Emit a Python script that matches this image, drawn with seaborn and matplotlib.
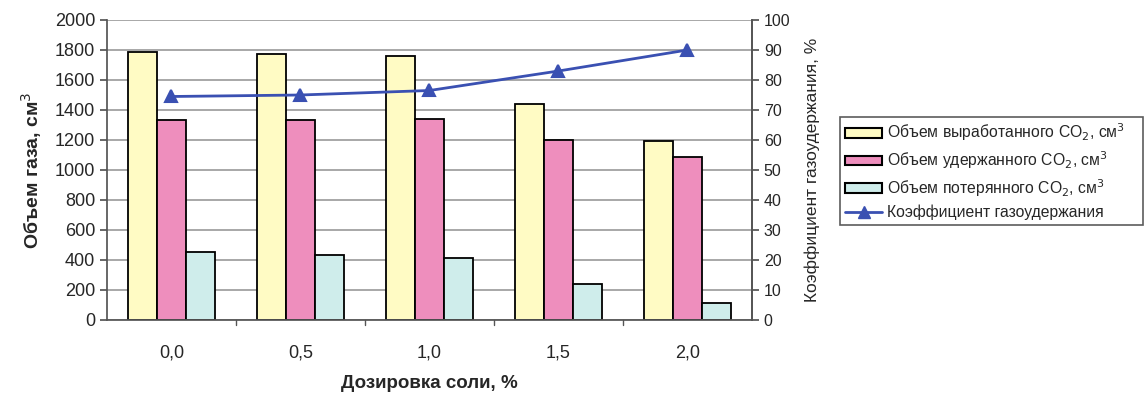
import matplotlib
matplotlib.use('Agg')
import seaborn as sns
import matplotlib.pyplot as plt
import matplotlib.patches as mpatches
import matplotlib.lines as mlines
import pandas as pd

# data
doses = ["0,0", "0,5", "1,0", "1,5", "2,0"]
produced = [1790, 1775, 1760, 1440, 1195]
retained = [1335, 1335, 1340, 1200, 1085]
lost = [455, 435, 415, 240, 115]
retention_coef = [74.5, 75.0, 76.5, 83.0, 90.0]

series_names = [
    "Объем выработанного CO$_2$, см$^3$",
    "Объем удержанного CO$_2$, см$^3$",
    "Объем потерянного CO$_2$, см$^3$",
]
line_name = "Коэффициент газоудержания"
bar_colors = ["#FFFBC4", "#EE8EBD", "#CFEDEB"]
line_color = "#3A50B2"

df = pd.DataFrame({
    "dose": doses * 3,
    "value": produced + retained + lost,
    "series": [s for s in series_names for _ in doses],
})
df_line = pd.DataFrame({"dose": doses, "coef": retention_coef})

sns.set_theme(style="white")
plt.rcParams['font.family'] = ['Liberation Sans', 'DejaVu Sans']

fig = plt.figure(figsize=(11.48, 3.96), dpi=100)
ax = fig.add_axes([107 / 1148, 1 - 320 / 396, (752 - 107) / 1148, 300 / 396])

sns.barplot(data=df, x="dose", y="value", hue="series", palette=bar_colors,
            width=0.67, edgecolor="black", linewidth=1.3, ax=ax, legend=False,
            saturation=1, zorder=2)
ax.set_ylim(0, 2000)
ax.set_yticks(range(0, 2001, 200))
ax.set_xlim(-0.5, 4.5)
ax.yaxis.grid(True, color="#9a9a9a", linewidth=1.2, zorder=0)
ax.set_axisbelow(True)
ax.set_xlabel("Дозировка соли, %", fontsize=13.5, fontweight="bold",
              family=['Liberation Sans Narrow', 'Liberation Sans'], labelpad=9)
ax.set_ylabel("Объем газа, см$^3$", fontsize=14, fontweight="bold", labelpad=8)
ax.tick_params(axis="y", labelsize=13, left=True, length=5, color="#555555")
ax.tick_params(axis="x", labelsize=13, bottom=False, pad=12)
for x in [0.5, 1.5, 2.5, 3.5]:
    ax.plot([x, x], [0, -0.018], transform=ax.get_xaxis_transform(),
            color="#555555", lw=1, clip_on=False)
for sp in ax.spines.values():
    sp.set_color("#555555")
ax.spines["top"].set_visible(False)

ax2 = ax.twinx()
sns.pointplot(data=df_line, x="dose", y="coef", color=line_color, markers="^",
              markersize=8, linewidth=2, ax=ax2)
ax2.set_ylim(0, 100)
ax2.set_yticks(range(0, 101, 10))
ax2.set_xlim(-0.5, 4.5)
ax2.set_ylabel("Коэффициент газоудержания, %", fontsize=12.5, labelpad=10)
ax2.tick_params(axis="y", labelsize=11.5, right=True, length=5, color="#555555")
for sp in ax2.spines.values():
    sp.set_visible(False)
ax2.spines["right"].set_visible(True)
ax2.spines["right"].set_color("#555555")

handles = [mpatches.Patch(facecolor=c, edgecolor="black", linewidth=1.5, label=n)
           for c, n in zip(bar_colors, series_names)]
handles.append(mlines.Line2D([], [], color=line_color, marker="^", markersize=8,
                             linewidth=2, label=line_name))
leg = fig.legend(handles=handles, loc="upper left", mode="expand",
                 bbox_to_anchor=(840 / 1148, 1 - 117 / 396, 303 / 1148, 0),
                 fontsize=11.3, frameon=True, fancybox=False, handlelength=2.4,
                 handleheight=0.55, handletextpad=0.3,
                 borderpad=0.3, labelspacing=0.38, borderaxespad=0)
leg.get_frame().set_edgecolor("#333333")
leg.get_frame().set_linewidth(1.2)

fig.savefig("out.png", dpi=100)
